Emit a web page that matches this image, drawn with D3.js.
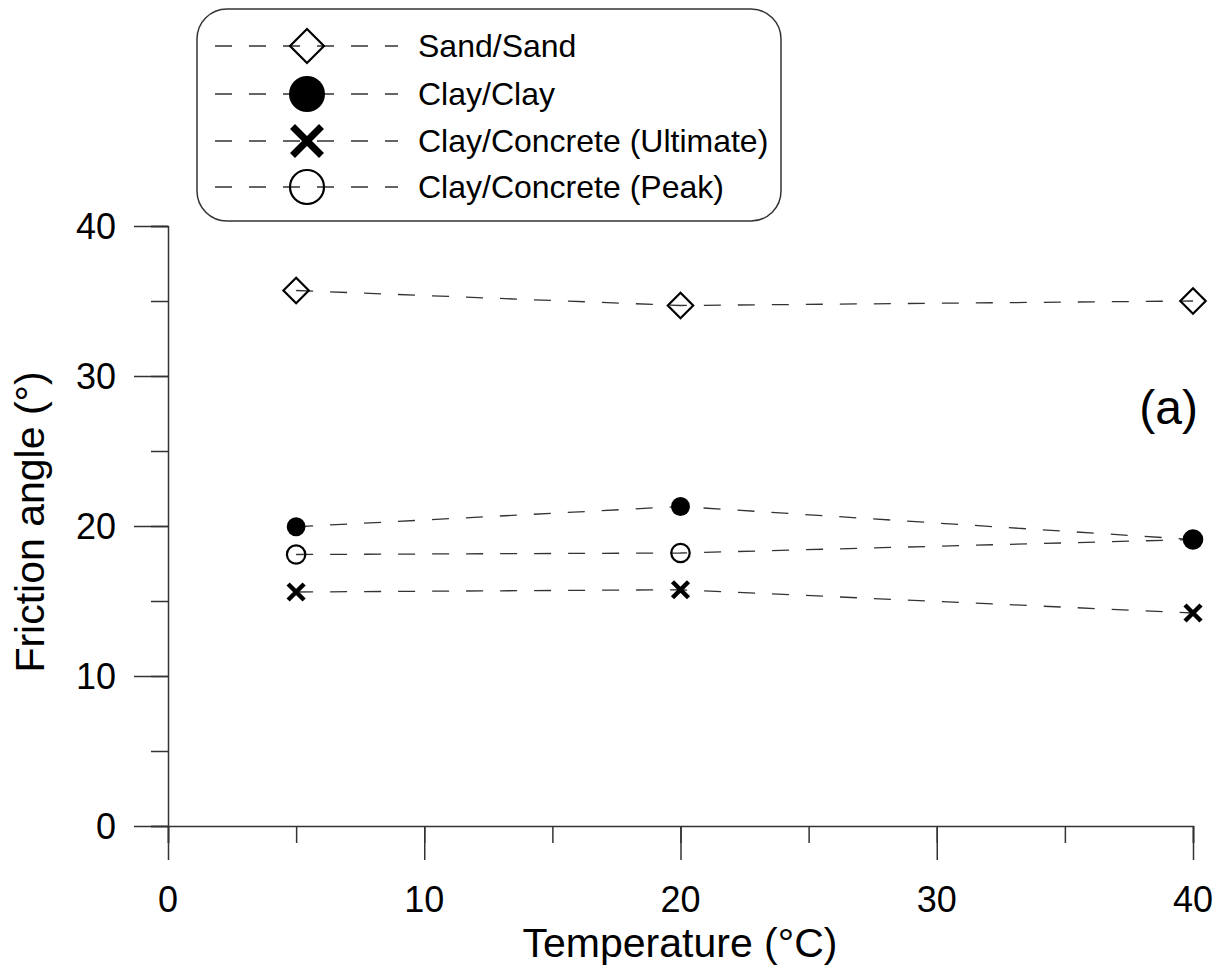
<!DOCTYPE html>
<html><head><meta charset="utf-8">
<script src="https://cdn.jsdelivr.net/npm/d3@7"></script>
<style>body{margin:0;background:#fff}svg{display:block}text{font-family:"Liberation Sans",Arial,sans-serif;fill:#000}</style>
</head><body><svg id="c" width="1225" height="971"></svg>
<script>
const temps = [5, 20, 40];
const sandSand = [35.7, 34.7, 35.0];
const clayClay = [19.95, 21.3, 19.1];
const clayConcreteUlt = [15.6, 15.75, 14.2];
const clayConcretePeak = [18.1, 18.2, 19.1];
const seriesNames = ["Sand/Sand", "Clay/Clay", "Clay/Concrete (Ultimate)", "Clay/Concrete (Peak)"];
const seriesKinds = ["diamond", "filled", "cross", "open"];
const seriesValues = [sandSand, clayClay, clayConcreteUlt, clayConcretePeak];
const xTicks = [0, 10, 20, 30, 40];
const yTicks = [0, 10, 20, 30, 40];

const svg = d3.select("#c");
const x = d3.scaleLinear().domain([0, 40]).range([168, 1193]);
const y = d3.scaleLinear().domain([0, 40]).range([826, 226]);
const axisColor = "#333";

// axes
const gx = svg.append("g").attr("transform", `translate(0,${y(0)})`)
  .call(d3.axisBottom(x).tickValues(d3.range(0, 41, 5)).tickSize(17).tickFormat(""));
const gx2 = svg.append("g").attr("transform", `translate(0,${y(0)})`)
  .call(d3.axisBottom(x).tickValues(xTicks).tickSize(34).tickFormat(""));
const gy = svg.append("g").attr("transform", `translate(${x(0)},0)`)
  .call(d3.axisLeft(y).tickValues(d3.range(0, 41, 5)).tickSize(17).tickFormat(""));
const gy2 = svg.append("g").attr("transform", `translate(${x(0)},0)`)
  .call(d3.axisLeft(y).tickValues(yTicks).tickSize(34).tickFormat(""));
[gx, gx2, gy, gy2].forEach(g => {
  g.selectAll("path.domain").attr("stroke", axisColor).attr("stroke-width", 1.5);
  g.selectAll(".tick line").attr("stroke", axisColor).attr("stroke-width", 1.5);
});
gx2.select("path.domain").remove();
gy2.select("path.domain").remove();

svg.append("g").selectAll("text").data(xTicks).join("text")
  .attr("x", d => x(d)).attr("y", 912).attr("text-anchor", "middle")
  .attr("font-size", 36).text(d => d);
svg.append("g").selectAll("text").data(yTicks).join("text")
  .attr("x", 116).attr("y", d => y(d) + 13).attr("text-anchor", "end")
  .attr("font-size", 36).text(d => d);

svg.append("text").attr("x", 680).attr("y", 957).attr("text-anchor", "middle")
  .attr("font-size", 41).text("Temperature (°C)");
svg.append("text").attr("transform", "translate(44,522) rotate(-90)").attr("text-anchor", "middle")
  .attr("font-size", 41).text("Friction angle (°)");
svg.append("text").attr("x", 1198).attr("y", 424).attr("text-anchor", "end")
  .attr("font-size", 48).text("(a)");

function drawMarker(g, kind, big) {
  if (kind === "diamond") {
    const h = big ? 17 : 12.7;
    g.append("path").attr("d", `M0,${-h}L${h},0L0,${h}L${-h},0Z`)
      .attr("fill", "none").attr("stroke", "#000").attr("stroke-width", 2.2);
  } else if (kind === "filled") {
    g.append("circle").attr("r", big ? 18 : 9.4).attr("fill", "#000");
  } else if (kind === "open") {
    g.append("circle").attr("r", big ? 17 : 9.2).attr("fill", "none")
      .attr("stroke", "#000").attr("stroke-width", 2.2);
  } else {
    const h = big ? 14.5 : 8;
    g.append("path").attr("d", `M${-h},${-h}L${h},${h}M${-h},${h}L${h},${-h}`)
      .attr("fill", "none").attr("stroke", "#000").attr("stroke-width", big ? 7 : 4.5);
  }
}

const line = d3.line().x(d => x(d[0])).y(d => y(d[1]));
seriesValues.forEach((vals, i) => {
  const pts = temps.map((t, j) => [t, vals[j]]);
  svg.append("path").attr("d", line(pts)).attr("fill", "none")
    .attr("stroke", "#333").attr("stroke-width", 1.3).attr("stroke-dasharray", "17,17");
});
seriesValues.forEach((vals, i) => {
  temps.forEach((t, j) => {
    const g = svg.append("g").attr("transform", `translate(${x(t)},${y(vals[j])})`);
    drawMarker(g, seriesKinds[i], false);
  });
});

// legend
const lg = svg.append("g");
lg.append("rect").attr("x", 197).attr("y", 9).attr("width", 584).attr("height", 212).attr("rx", 30)
  .attr("fill", "#fff").attr("stroke", "#333").attr("stroke-width", 1.5);
const rowY = [46, 94, 141, 187];
seriesNames.forEach((name, i) => {
  const ry = rowY[i];
  lg.append("line").attr("x1", 215).attr("x2", 398).attr("y1", ry).attr("y2", ry)
    .attr("stroke", "#333").attr("stroke-width", 1.3).attr("stroke-dasharray", "17,17");
  const g = lg.append("g").attr("transform", `translate(307,${ry})`);
  drawMarker(g, seriesKinds[i], true);
  lg.append("text").attr("x", 418).attr("y", ry + 11).attr("font-size", 32).text(name);
});
</script></body></html>
